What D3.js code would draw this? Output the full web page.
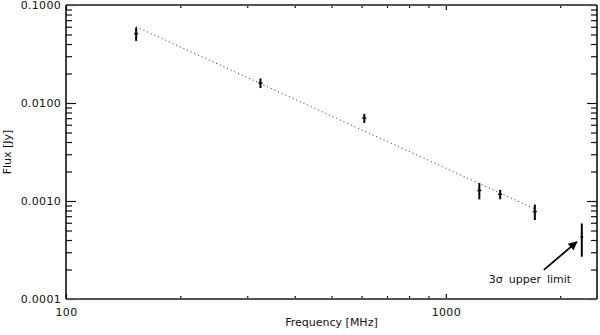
<!DOCTYPE html>
<html lang="en">
<head>
    <meta charset="UTF-8">
    <title>Flux vs Frequency</title>
    <script src="https://d3js.org/d3.v7.min.js"></script>
    <style>
        body { margin: 0; background: #fff; }
        text { font-family: "DejaVu Sans", sans-serif; font-size: 11px; fill: #111; }
        .tick line { stroke: #111; stroke-width: 1.2px; }
        .fit { fill: none; stroke: #222; stroke-width: 1px; stroke-dasharray: 1,3; }
        .bar { stroke: #000; stroke-width: 2px; }
    </style>
</head>
<body>
    <svg width="600" height="335"></svg>

    <script>
        // measured fluxes (MHz, Jy)
        const freqs    = [153, 325, 610, 1225, 1390, 1715];
        const fluxes   = [0.051, 0.016, 0.0070, 0.00128, 0.00117, 0.00078];
        const fluxLow  = [0.043, 0.0142, 0.00625, 0.00104, 0.00104, 0.00064];
        const fluxHigh = [0.059, 0.0178, 0.00775, 0.00152, 0.00130, 0.00092];

        // upper limit point
        const ulFreq = 2280;
        const ulFlux = 0.00043;
        const ulLow = 0.00027;
        const ulHigh = 0.00059;

        // power-law fit (two end points of straight line in log-log)
        const fitFreq = [153, 1715];
        const fitFlux = [0.060, 0.00083];

        const yTicks = [0.1, 0.01, 0.001, 0.0001];
        const yTickLabels = ["0.1000", "0.0100", "0.0010", "0.0001"];
        const xTicks = [100, 1000];
        const xTickLabels = ["100", "1000"];

        const svg = d3.select("svg");
        const plotL = 66, plotR = 597, plotT = 5, plotB = 299;

        const x = d3.scaleLog().domain([100, 2500]).range([plotL, plotR]);
        const y = d3.scaleLog().domain([0.0001, 0.1]).range([plotB, plotT]);

        // minor tick positions (2..9 per decade)
        const yMinor = [];
        [0.0001, 0.001, 0.01].forEach(d => { for (let k = 2; k <= 9; k++) yMinor.push(d * k); });
        const xMinor = [];
        [100, 1000].forEach(d => { for (let k = 2; k <= 9; k++) if (d * k <= 2500) xMinor.push(d * k); });

        function addAxis(axis, tx, ty) {
            const g = svg.append("g").attr("transform", `translate(${tx},${ty})`).call(axis);
            g.select(".domain").remove();
            return g;
        }

        // left / right
        addAxis(d3.axisLeft(y).tickValues(yTicks).tickSize(-10).tickPadding(5)
            .tickFormat((d, i) => yTickLabels[i]), plotL, 0);
        addAxis(d3.axisLeft(y).tickValues(yMinor).tickSize(-6).tickFormat(""), plotL, 0);
        addAxis(d3.axisRight(y).tickValues(yTicks).tickSize(-10).tickFormat(""), plotR, 0);
        addAxis(d3.axisRight(y).tickValues(yMinor).tickSize(-6).tickFormat(""), plotR, 0);

        // bottom / top
        addAxis(d3.axisBottom(x).tickValues(xTicks).tickSize(-5).tickPadding(9)
            .tickFormat((d, i) => xTickLabels[i]), 0, plotB);
        addAxis(d3.axisBottom(x).tickValues(xMinor).tickSize(-3).tickFormat(""), 0, plotB);
        addAxis(d3.axisTop(x).tickValues(xTicks).tickSize(-5).tickFormat(""), 0, plotT);
        addAxis(d3.axisTop(x).tickValues(xMinor).tickSize(-3).tickFormat(""), 0, plotT);

        svg.selectAll(".tick text").style("letter-spacing", "0.3px");

        // frame
        svg.append("line").attr("x1", plotL).attr("x2", plotR).attr("y1", plotT).attr("y2", plotT)
            .attr("stroke", "#555").attr("stroke-width", 1.8);
        svg.append("line").attr("x1", plotL).attr("x2", plotR).attr("y1", plotB).attr("y2", plotB)
            .attr("stroke", "#555").attr("stroke-width", 1.8);
        svg.append("line").attr("x1", plotL).attr("x2", plotL).attr("y1", plotT).attr("y2", plotB)
            .attr("stroke", "#000").attr("stroke-width", 1.5);
        svg.append("line").attr("x1", plotR).attr("x2", plotR).attr("y1", plotT).attr("y2", plotB)
            .attr("stroke", "#000").attr("stroke-width", 1.5);

        // fit line
        const fitLine = d3.line().x(d => x(d[0])).y(d => y(d[1]));
        svg.append("path")
            .datum(fitFreq.map((f, i) => [f, fitFlux[i]]))
            .attr("class", "fit")
            .attr("d", fitLine);

        // data points with error bars
        const pts = freqs.map((f, i) => ({ f: f, v: fluxes[i], lo: fluxLow[i], hi: fluxHigh[i] }));
        const pg = svg.append("g");
        pg.selectAll("line.bar").data(pts).enter().append("line")
            .attr("class", "bar")
            .attr("x1", d => x(d.f)).attr("x2", d => x(d.f))
            .attr("y1", d => y(d.lo)).attr("y2", d => y(d.hi));
        pg.selectAll("line.mark").data(pts).enter().append("line")
            .attr("class", "mark")
            .attr("x1", d => x(d.f) - 2).attr("x2", d => x(d.f) + 2)
            .attr("y1", d => y(d.v)).attr("y2", d => y(d.v))
            .attr("stroke", "#000").attr("stroke-width", 1.5);

        // upper limit
        svg.append("line").attr("class", "bar")
            .attr("x1", x(ulFreq)).attr("x2", x(ulFreq))
            .attr("y1", y(ulLow)).attr("y2", y(ulHigh));
        svg.append("line")
            .attr("x1", x(ulFreq) - 1.5).attr("x2", x(ulFreq) + 1.5)
            .attr("y1", y(ulFlux)).attr("y2", y(ulFlux))
            .attr("stroke", "#000").attr("stroke-width", 1.2);

        // arrow + label
        svg.append("defs").append("marker")
            .attr("id", "arrowhead")
            .attr("viewBox", "0 0 10 10")
            .attr("refX", 9).attr("refY", 5)
            .attr("markerWidth", 5).attr("markerHeight", 5)
            .attr("markerUnits", "strokeWidth")
            .attr("orient", "auto")
            .append("path")
            .attr("d", "M0,0 L10,5 L0,10 z")
            .attr("fill", "#000");

        const tipX = x(ulFreq) - 5, tipY = y(ulFlux) + 5;
        svg.append("line")
            .attr("x1", tipX - 33).attr("y1", tipY + 28)
            .attr("x2", tipX).attr("y2", tipY)
            .attr("stroke", "#000").attr("stroke-width", 1.8)
            .attr("marker-end", "url(#arrowhead)");

        svg.append("text")
            .attr("x", tipX - 88).attr("y", tipY + 41)
            .style("word-spacing", "2.5px")
            .text("3σ upper limit");

        // axis titles
        svg.append("text")
            .attr("x", (plotL + plotR) / 2).attr("y", 326)
            .attr("text-anchor", "middle")
            .text("Frequency [MHz]");

        svg.append("text")
            .attr("transform", `translate(11,${(plotT + plotB) / 2}) rotate(-90)`)
            .attr("text-anchor", "middle")
            .text("Flux [Jy]");
    </script>
</body>
</html>
